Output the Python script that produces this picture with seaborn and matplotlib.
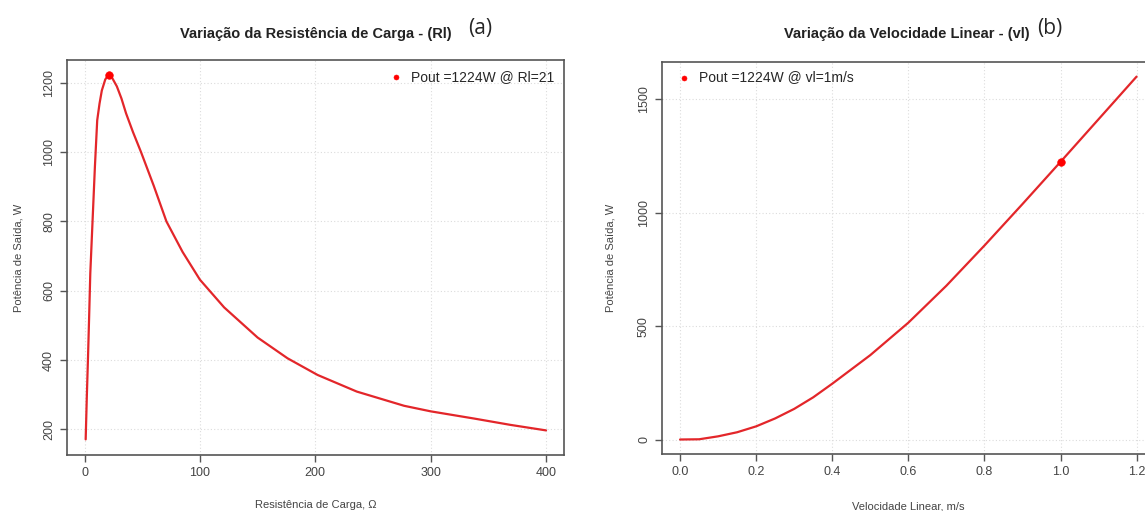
import numpy as np
import pandas as pd
import seaborn as sns
import matplotlib.pyplot as plt

# painel (a): potencia x resistencia de carga
resistencia = [1, 2, 3, 4, 5, 7, 9, 11, 13, 15, 18, 21, 24, 28, 32, 36, 42, 49, 60, 71,
               85, 100, 121, 150, 176, 202, 236, 277, 300, 338, 369, 400]
pot_resist = [171, 295, 405, 525, 650, 804, 958, 1092, 1140, 1178, 1210, 1224, 1214, 1190,
              1155, 1112, 1058, 1000, 903, 800, 712, 632, 552, 465, 405, 357, 309, 268,
              252, 231, 213, 197]
rl_max, p_max_a = 21, 1224

# painel (b): potencia x velocidade linear
velocidade = [0, 0.05, 0.1, 0.15, 0.2, 0.25, 0.3, 0.35, 0.4, 0.5, 0.6, 0.7, 0.8, 0.9, 1.0, 1.1, 1.2]
pot_veloc = [0, 1, 14, 32, 58, 93, 135, 186, 246, 372, 515, 678, 855, 1038, 1224, 1412, 1600]
vl_ponto, p_ponto_b = 1.0, 1224

df_a = pd.DataFrame({"R": resistencia, "P": pot_resist})
df_b = pd.DataFrame({"v": velocidade, "P": pot_veloc})

sns.set_style("white")
plt.rcParams['font.family'] = ['Liberation Sans', 'DejaVu Sans']

vermelho = "#e3262a"
cinza = "#444444"

fig = plt.figure(figsize=(11.45, 5.11), dpi=100)
ax1 = fig.add_axes([0.0585, 0.1096, 0.434, 0.773])
ax2 = fig.add_axes([0.578, 0.1115, 0.4306, 0.767])


def estilo(ax, xticks, yticks):
    ax.set_xticks(xticks)
    ax.set_yticks(yticks)
    for t in xticks:
        ax.axvline(t, color="#dcdcdc", lw=0.8, ls=(0, (1, 2)), zorder=0)
    for t in yticks:
        ax.axhline(t, color="#dcdcdc", lw=0.8, ls=(0, (1, 2)), zorder=0)
    for s in ax.spines.values():
        s.set_color("#555555")
        s.set_linewidth(1.2)
    ax.tick_params(axis="both", direction="out", length=5, width=1, color="#555555",
                   labelsize=9, labelcolor=cinza, left=True, bottom=True)
    plt.setp(ax.get_yticklabels(), rotation=90, va="center")


# (a)
sns.lineplot(data=df_a, x="R", y="P", color=vermelho, lw=1.6, ax=ax1, sort=False)
sns.scatterplot(x=[rl_max], y=[p_max_a], color="red", s=30, edgecolor="red", ax=ax1,
                label=f"Pout ={p_max_a}W @ Rl={rl_max}", zorder=5)
ax1.set_xlim(-15.2, 415.5)
ax1.set_ylim(126, 1266)
estilo(ax1, [0, 100, 200, 300, 400], [200, 400, 600, 800, 1000, 1200])
ax1.set_xlabel("Resistência de Carga, Ω", fontsize=8, color=cinza)
ax1.set_ylabel("Potência de Saída, W", fontsize=8, color=cinza)
ax1.xaxis.set_label_coords(0.5, -0.115)
ax1.yaxis.set_label_coords(-0.088, 0.5)
ax1.legend(loc="upper right", frameon=False, fontsize=10, handletextpad=0.05,
           borderaxespad=0.3, markerscale=0.65)
ax1.set_title("Variação da Resistência de Carga - (Rl)", fontsize=10.5, fontweight="bold",
              color="#222222", pad=16, x=0.5)

# (b)
sns.lineplot(data=df_b, x="v", y="P", color=vermelho, lw=1.6, ax=ax2, sort=False)
sns.scatterplot(x=[vl_ponto], y=[p_ponto_b], color="red", s=30, edgecolor="red", ax=ax2,
                label=f"Pout ={p_ponto_b}W @ vl=1m/s", zorder=5)
ax2.set_xlim(-0.048, 1.248)
ax2.set_ylim(-64, 1664)
estilo(ax2, [0.0, 0.2, 0.4, 0.6, 0.8, 1.0, 1.2], [0, 500, 1000, 1500])
ax2.set_xticklabels(["0.0", "0.2", "0.4", "0.6", "0.8", "1.0", "1.2"])
ax2.set_xlabel("Velocidade Linear, m/s", fontsize=8, color=cinza)
ax2.set_ylabel("Potência de Saída, W", fontsize=8, color=cinza)
ax2.xaxis.set_label_coords(0.5, -0.12)
ax2.yaxis.set_label_coords(-0.093, 0.5)
ax2.legend(loc="upper left", frameon=False, fontsize=10, handletextpad=0.05,
           borderaxespad=0.2, markerscale=0.65)
ax2.set_title("Variação da Velocidade Linear - (vl)", fontsize=10.5, fontweight="bold",
              color="#222222", pad=17, x=0.497)

# rotulos (a) e (b)
fig.text(0.419, 0.945, "(a)", fontsize=15, family=["Open Sans", "DejaVu Sans"],
         ha="center", va="center")
fig.text(0.917, 0.945, "(b)", fontsize=15, family=["Open Sans", "DejaVu Sans"],
         ha="center", va="center")

fig.savefig("out.png", dpi=100)
